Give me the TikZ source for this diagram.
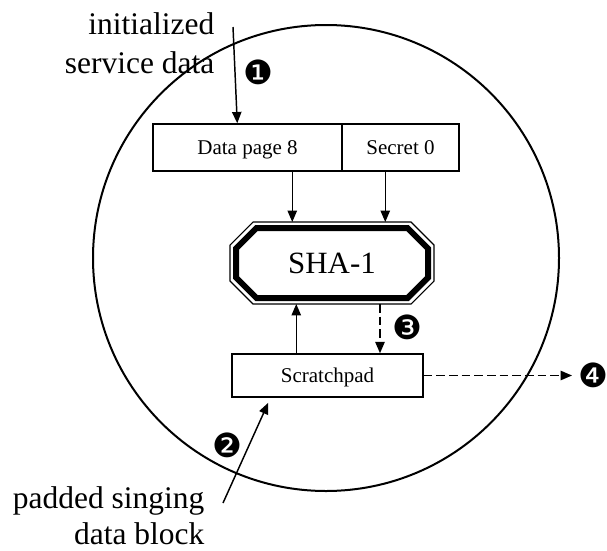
\documentclass[tikz,border=0pt]{standalone}
\usepackage{fontspec}
\setmainfont{Liberation Serif}
\newfontfamily\dingfont{DejaVu Sans}
\usetikzlibrary{arrows.meta,calc}

% chamfered outline around the SHA-1 node: line width, inset, chamfer
\newcommand\shaoctagon[3]{%
  \draw[line width=#1]
    ($(sha.north west)+(#2+#3,#2)$) -- ($(sha.north east)+(-#2-#3,#2)$) --
    ($(sha.north east)+(-#2,#2+#3)$) -- ($(sha.south east)+(-#2,-#2-#3)$) --
    ($(sha.south east)+(-#2-#3,-#2)$) -- ($(sha.south west)+(#2+#3,-#2)$) --
    ($(sha.south west)+(#2,-#2-#3)$) -- ($(sha.north west)+(#2,#2+#3)$) -- cycle;}

\begin{document}
\begin{tikzpicture}[x=0.75pt,y=-0.75pt,
  line width=1.1pt,
  flow/.style={-{Triangle[length=8.5pt,width=7pt]}},
  dashflow/.style={flow,dash pattern=on 6.5pt off 3pt},
  cell/.style={draw,line width=1.1pt,inner sep=0pt,minimum height=35.25pt,
    text height=10.4pt,text depth=0pt,font=\fontsize{15.75pt}{18pt}\selectfont},
  label/.style={align=right,inner sep=0pt,font=\fontsize{23.6pt}{29.25pt}\selectfont},
  callout/.style={inner sep=0pt,font=\dingfont\fontsize{25pt}{25pt}\selectfont}]

\useasboundingbox (0,0) rectangle (607,550);

% device boundary
\node[draw,circle,line width=1.5pt,minimum size=349.5pt,inner sep=0pt] (chip) at (326,258) {};

% memory cells
\node[cell,minimum width=141.75pt] (dp) at (247.5,147.5) {Data page 8};
\node[cell,minimum width=87.75pt] (sec) at (400.5,147.5) {Secret 0};
\node[cell,minimum width=143.25pt,minimum height=32.25pt] (scr) at (327.5,375.5) {Scratchpad};

% hash engine
\node[inner sep=0pt,outer sep=0pt,minimum width=153pt,minimum height=61.5pt,
  text height=15.4pt,text depth=0pt,font=\fontsize{23.2pt}{26pt}\selectfont] (sha) at (332,263) {SHA-1};
\shaoctagon{0.8pt}{0}{23}
\shaoctagon{4.5pt}{6}{20.5}

% data flow
\draw[flow] ($(dp.south west)+(140,0)$) coordinate (a1) -- (a1 |- sha.north);
\draw[flow] ($(sec.south west)+(44,0)$) coordinate (a2) -- (a2 |- sha.north);
\draw[flow] ($(scr.north west)+(65,0)$) coordinate (a3) -- (a3 |- sha.south);
\draw[dashflow] ($(sha.south west)+(150,0)$) coordinate (a4) -- (a4 |- scr.north);
\coordinate (out) at (572,375.5);
\draw[dashflow] (scr.east) -- (out);

\coordinate (src1) at (233,27);
\draw[flow] (src1) -- ($(dp.north west)+(85,0)$);
\coordinate (src2) at (223,503);
\draw[flow] (src2) -- ($(scr.south west)+(37,5)$);

% labels
\node[label,anchor=north east] (lab1) at (215,11.5) {initialized\\service data};
\node[label,anchor=north east,font=\fontsize{23.6pt}{27pt}\selectfont] (lab2) at (205,486) {padded singing\\data block};

% step markers
\node[callout] (m1) at (258,72) {❶};
\node[callout] (m2) at (227,445) {❷};
\node[callout] (m3) at (407,327) {❸};
\node[callout] (m4) at (593,375) {❹};
\end{tikzpicture}
\end{document}
